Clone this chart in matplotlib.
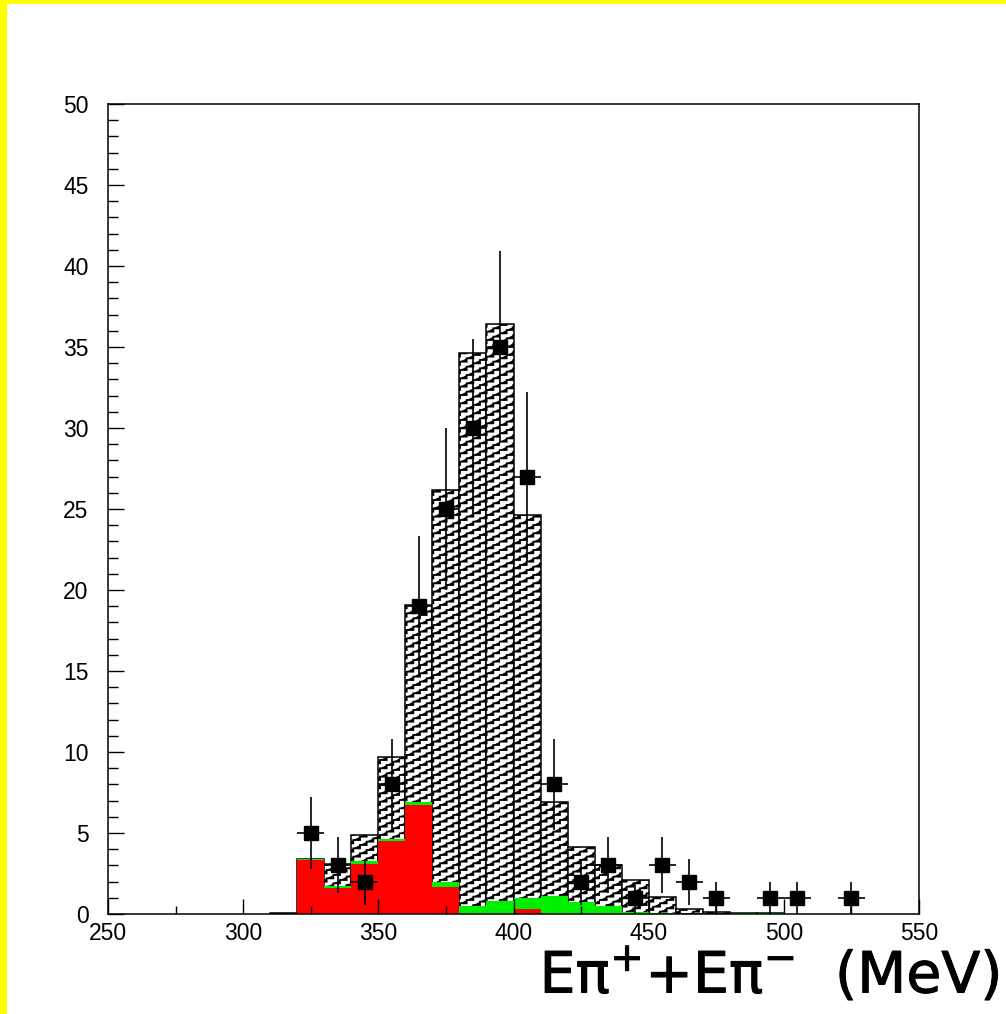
import numpy as np
import matplotlib
matplotlib.use("Agg")
import matplotlib.pyplot as plt
import matplotlib.hatch as mhatch
import matplotlib.patheffects as pe
from matplotlib.path import Path
from matplotlib.patches import Rectangle

# ---------------- data ----------------
bin_edges = np.arange(310, 510, 10)          # 310 ... 500
total_mc = [0.08, 3.4, 3.1, 4.9, 9.7, 19.1, 26.2, 34.6, 36.4, 24.6,
            6.9, 4.15, 3.0, 2.1, 1.05, 0.3, 0.1, 0.08, 0.08]
green_bg = [0.0, 3.4, 1.75, 3.25, 4.6, 6.9, 2.0, 0.5, 0.82, 0.97,
            1.13, 0.72, 0.5, 0.15, 0.05, 0.02, 0.0, 0.08, 0.08]
red_bg = [0.0, 3.35, 1.62, 3.1, 4.5, 6.7, 1.67, 0.0, 0.0, 0.31,
          0.0, 0.0, 0.0, 0.0, 0.0, 0.0, 0.0, 0.0, 0.0]
data_x = [325, 335, 345, 355, 365, 375, 385, 395, 405, 415,
          425, 435, 445, 455, 465, 475, 495, 505, 525]
data_y = [5, 3, 2, 8, 19, 25, 30, 35, 27, 8,
          2, 3, 1, 3, 2, 1, 1, 1, 1]
x_ticks = [250, 300, 350, 400, 450, 500, 550]
y_ticks = [0, 5, 10, 15, 20, 25, 30, 35, 40, 45, 50]


# ------------- staircase hatch (replaces '/') -------------
class StairHatch(mhatch.HatchPatternBase):
    K = 15  # treads per tile

    def __init__(self, hatch, density):
        n = int((hatch.count('/') + hatch.count('x') + hatch.count('X')) * density)
        n = n + (n % 2)
        self.num_lines = n
        if n:
            self.js = np.arange(-n // 2, n + 1)
            self.num_vertices = len(self.js) * (2 * self.K + 1)
        else:
            self.num_vertices = 0

    def set_vertices_and_codes(self, vertices, codes):
        n = self.num_lines
        K = self.K
        m = 2 * K + 1
        i = np.arange(K)
        for idx, j in enumerate(self.js):
            c = j / n
            v = vertices[idx * m:(idx + 1) * m]
            v[0] = (0.0, c)
            v[1::2, 0] = (i + 1) / K
            v[1::2, 1] = c + i / (2 * K)
            v[2::2, 0] = (i + 1) / K
            v[2::2, 1] = c + (i + 1) / (2 * K)
            cc = codes[idx * m:(idx + 1) * m]
            cc[0] = Path.MOVETO
            cc[1:] = Path.LINETO


try:
    k_idx = mhatch._hatch_types.index(mhatch.NorthEastHatch)
    mhatch._hatch_types[k_idx] = StairHatch
except Exception:
    pass

plt.rcParams['hatch.linewidth'] = 1.3
plt.rcParams['font.family'] = ['Liberation Sans', 'DejaVu Sans']

W, H = 1006, 1014
fig = plt.figure(figsize=(W / 100, H / 100), dpi=100)
fig.patch.set_facecolor('white')

# yellow border (left & top)
fig.add_artist(Rectangle((0, 0), 7 / W, 1, transform=fig.transFigure,
                         color='#ffff00', lw=0, zorder=0))
fig.add_artist(Rectangle((0, 1 - 4 / H), 1, 4 / H, transform=fig.transFigure,
                         color='#ffff00', lw=0, zorder=0))

ax = fig.add_axes([108 / W, 1 - 914 / H, (919 - 108) / W, (914 - 104) / H])

left = bin_edges[:-1]
ax.bar(left, total_mc, width=10, align='edge', facecolor='white',
       edgecolor='black', hatch='//', linewidth=1.1, zorder=1)
ax.bar(left, green_bg, width=10, align='edge', facecolor='#00ee00',
       edgecolor='none', linewidth=0, zorder=1.2)
ax.bar(left, red_bg, width=10, align='edge', facecolor='#ff0000',
       edgecolor='none', linewidth=0, zorder=1.3)

yerr = np.sqrt(np.array(data_y, dtype=float))
ax.errorbar(data_x, data_y, xerr=5, yerr=yerr, fmt='s', color='black',
            markersize=10.5, elinewidth=1.2, capsize=0, zorder=3)

ax.set_xlim(250, 550)
ax.set_ylim(0, 50)
ax.set_xticks(x_ticks)
ax.set_yticks(y_ticks)
ax.set_xticks(np.arange(250, 551, 25), minor=True)
ax.set_yticks(np.arange(0, 51, 1), minor=True)

ax.tick_params(axis='both', which='both', direction='in', top=False, right=False,
               width=1.0, labelsize=16.5, colors='black')
ax.tick_params(axis='x', which='major', length=11, pad=6)
ax.tick_params(axis='x', which='minor', length=6)
ax.tick_params(axis='y', which='major', length=11.5, pad=14)
ax.tick_params(axis='y', which='minor', length=7)
for sp in ax.spines.values():
    sp.set_linewidth(1.1)

fig.text(1000 / W, 1 - 993 / H, r'Eπ$^{+}$+Eπ$^{-}$  (MeV)',
         ha='right', va='baseline', fontsize=41, family='DejaVu Sans',
         color='black',
         path_effects=[pe.withStroke(linewidth=0.7, foreground='black')])

fig.savefig('out.png', dpi=100, facecolor='white')
